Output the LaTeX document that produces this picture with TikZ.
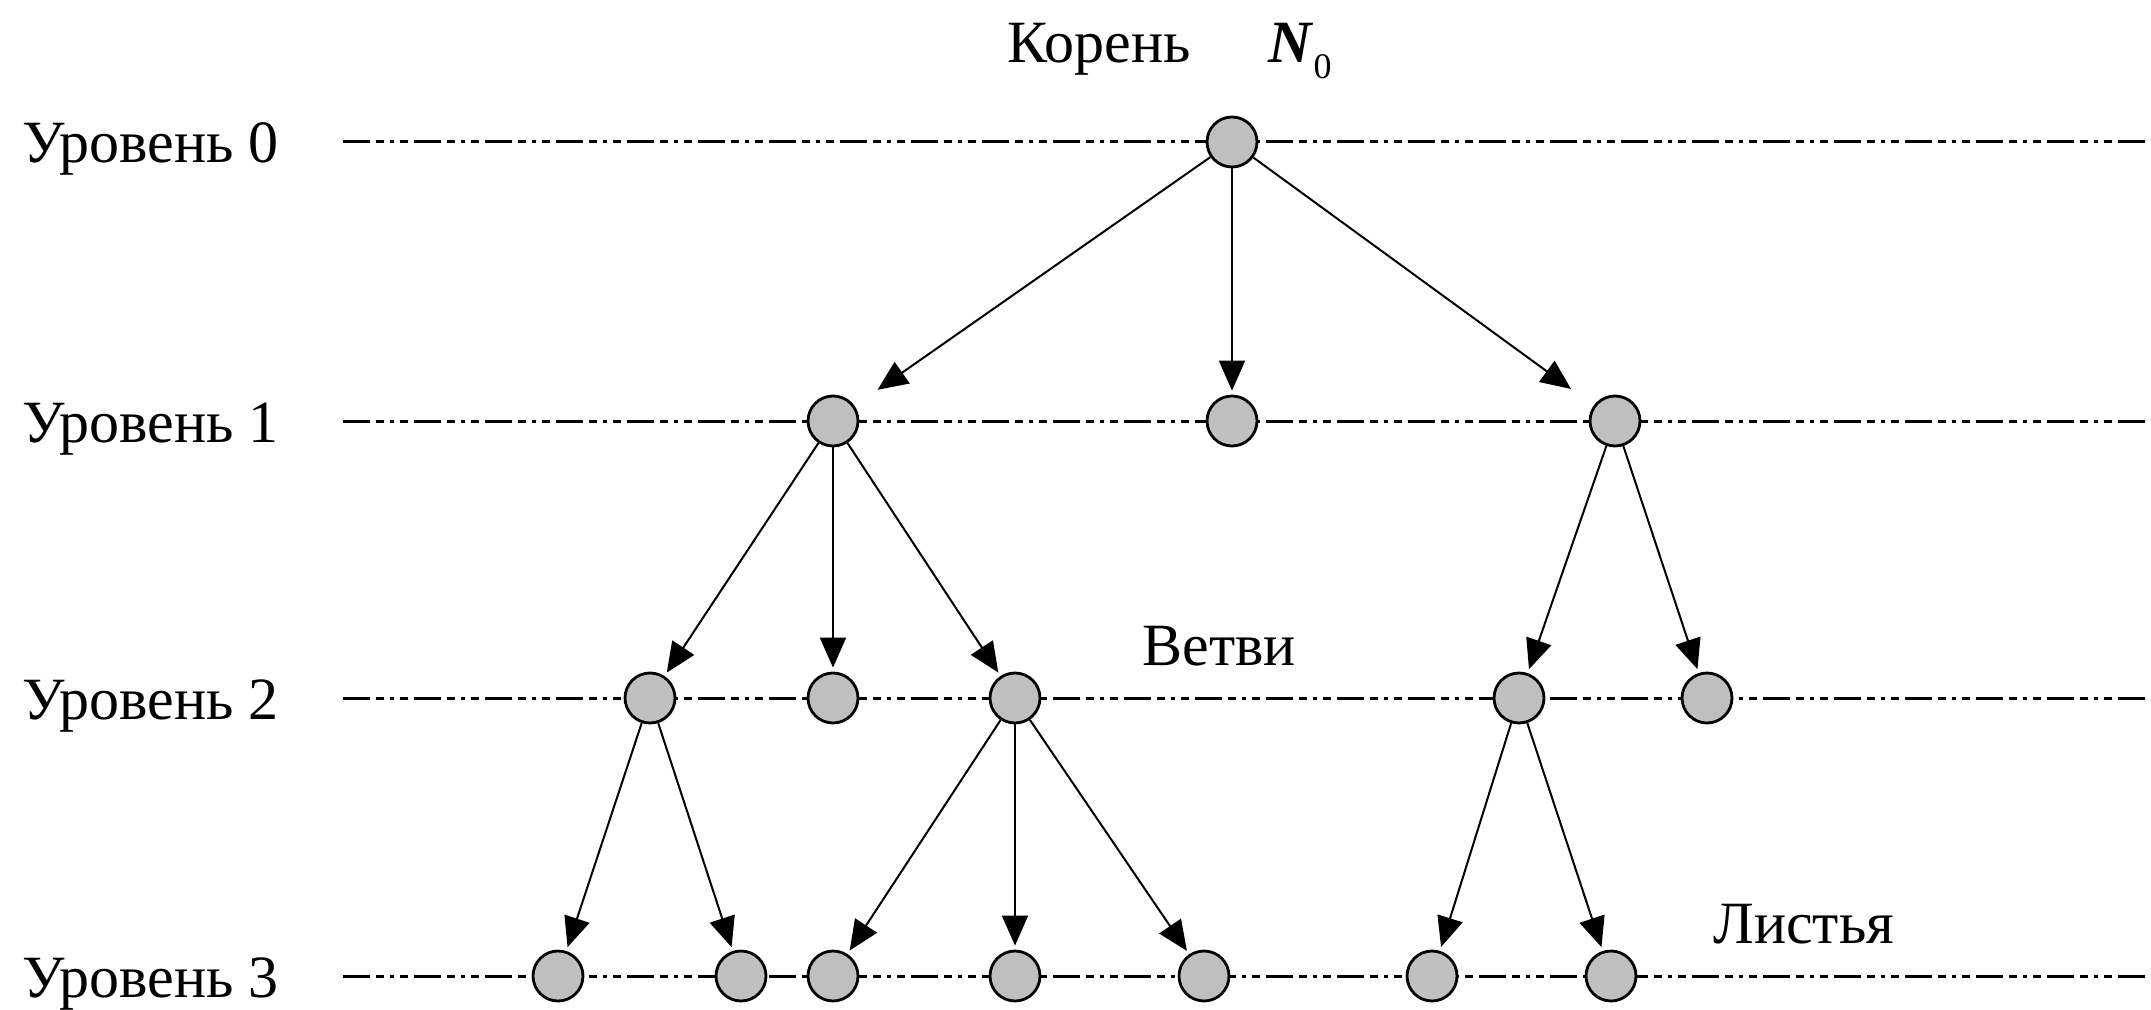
\documentclass[tikz,border=0pt]{standalone}
\usepackage{fontspec}
\setmainfont{Liberation Serif}
\usetikzlibrary{arrows.meta}
\tikzset{
  treenode/.style={circle,draw=black,line width=1.4pt,fill=black!25,minimum size=25pt,inner sep=0pt},
  levelline/.style={line width=1.5pt,dash pattern=on 13.5pt off 3pt on 4pt off 3pt on 2pt off 3pt on 4pt off 3pt},
  arr/.style={line width=1pt,-{Triangle[length=15pt,width=13pt]},shorten >=2pt},
  lbl/.style={font=\fontsize{30pt}{32pt}\selectfont,inner sep=0pt,anchor=base west}
}
\begin{document}
\begin{tikzpicture}[x=0.5pt,y=-0.5pt]
\useasboundingbox (0,0) rectangle (2151,1010);
% level lines
\foreach \ly/\n in {142/0,421/1,698/2,976/3}{
  \coordinate (ls\n) at (343,\ly);
  \coordinate (le\n) at (2151,\ly);
  \draw[levelline] (ls\n) -- (le\n);
  \node[lbl] (lev\n) at (22,\ly+21) {Уровень \n};
}
% nodes
\node[treenode] (r) at (1232,142) {};
\node[treenode] (a) at (833,421) {};
\node[treenode] (b) at (1232,421) {};
\node[treenode] (c) at (1615,421) {};
\node[treenode] (a1) at (650,698) {};
\node[treenode] (a2) at (833,698) {};
\node[treenode] (a3) at (1015,698) {};
\node[treenode] (c1) at (1519,698) {};
\node[treenode] (c2) at (1707,698) {};
\node[treenode] (a11) at (558,976) {};
\node[treenode] (a12) at (741,976) {};
\node[treenode] (a31) at (833,976) {};
\node[treenode] (a32) at (1015,976) {};
\node[treenode] (a33) at (1204,976) {};
\node[treenode] (c11) at (1432,976) {};
\node[treenode] (c12) at (1611,976) {};
% edges
\draw[arr,shorten >=14pt] (r) -- (a);
\draw[arr] (r) -- (b);
\draw[arr,shorten >=14pt] (r) -- (c);
\draw[arr] (a) -- (a1);
\draw[arr] (a) -- (a2);
\draw[arr] (a) -- (a3);
\draw[arr] (c) -- (c1);
\draw[arr] (c) -- (c2);
\draw[arr] (a1) -- (a11);
\draw[arr] (a1) -- (a12);
\draw[arr] (a3) -- (a31);
\draw[arr] (a3) -- (a32);
\draw[arr] (a3) -- (a33);
\draw[arr] (c1) -- (c11);
\draw[arr] (c1) -- (c12);
% labels
\node[lbl] (root) at (1007,63) {Корень};
\node[lbl] (n0) at (1268,63) {\textbf{\textit{N}}\raisebox{-8pt}{\fontsize{18pt}{20pt}\selectfont 0}};
\node[lbl] (br) at (1142,665) {Ветви};
\node[lbl] (lv) at (1713,943) {Листья};
\end{tikzpicture}
\end{document}
